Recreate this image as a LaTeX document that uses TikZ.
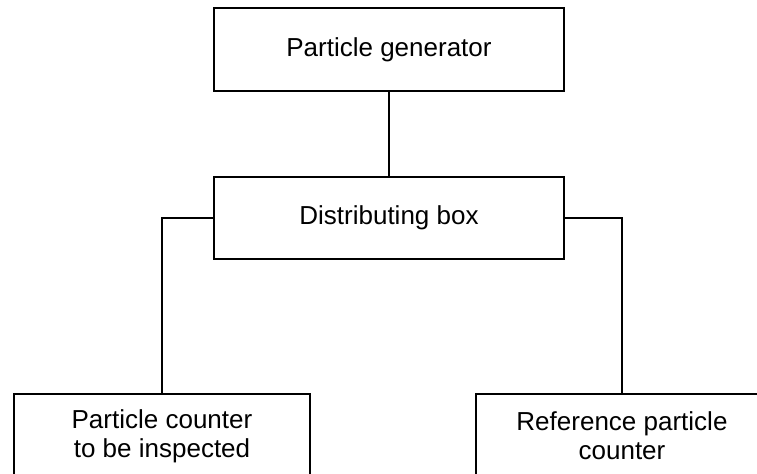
\documentclass[tikz,border=0pt]{standalone}
\usepackage{fontspec}
\setmainfont{Liberation Sans}
\usepackage{tikz}
\usetikzlibrary{positioning}

\begin{document}
\begin{tikzpicture}[
                box/.style={rectangle,draw,line width=0.7pt,inner sep=0pt,outer sep=0pt,
                    align=center,font=\fontsize{14.8}{16.5}\selectfont},
                link/.style={draw,line width=0.7pt}
            ]
                \useasboundingbox (0,0) rectangle (15.14,9.48);
                \clip (0,0) rectangle (15.14,9.48);
                \node[box,minimum width=7cm,minimum height=1.66cm] (gen) at (7.78,8.49) {Particle generator};
                \node[box,minimum width=7cm,minimum height=1.64cm] (dist) at (7.78,5.12) {Distributing box};
                \node[box,minimum width=5.92cm,minimum height=1.68cm] (insp) at (3.24,0.76) {Particle counter\\to be inspected};
                \node[box,minimum width=5.84cm,minimum height=1.68cm] (ref) at (12.44,0.76) {Reference particle\\counter};
                \path[link] (gen) -- (dist);
                \path[link] (dist.west) -| (insp.north);
                \path[link] (dist.east) -| (ref.north);
            \end{tikzpicture}
\end{document}
